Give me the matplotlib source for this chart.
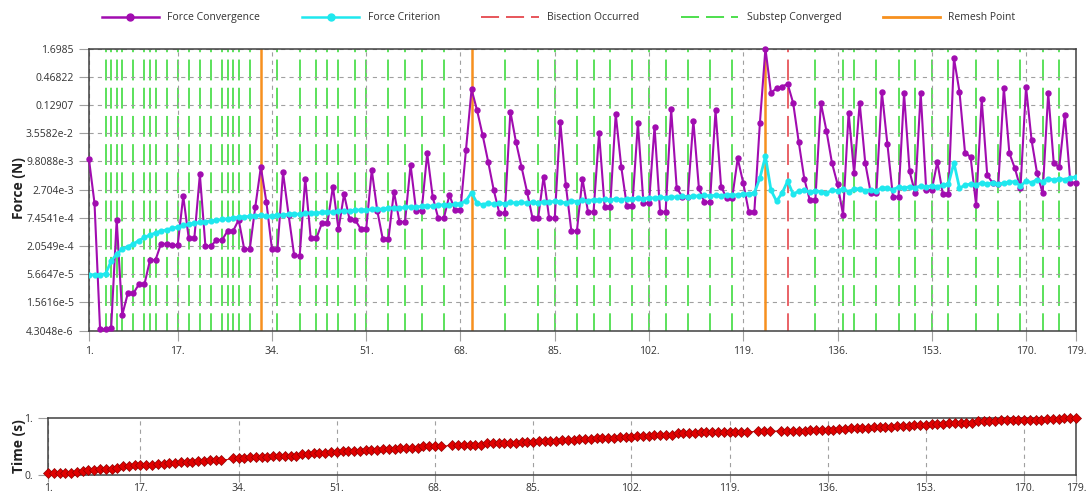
import numpy as np
import matplotlib
matplotlib.use('Agg')
import matplotlib.pyplot as plt
from matplotlib.lines import Line2D

plt.rcParams['font.family'] = ['Open Sans', 'DejaVu Sans']
plt.rcParams['lines.scale_dashes'] = False

iterations = np.arange(1, 180)

# log10 of Force Convergence (N)
force_conv_log10 = [
    -1.97, -2.84, -5.34, -5.34, -5.32, -3.17, -5.06, -4.63, -4.63, -4.45,
    -4.45, -3.97, -3.97, -3.64, -3.65, -3.67, -3.67, -2.70, -3.54, -3.54,
    -2.27, -3.69, -3.69, -3.57, -3.57, -3.39, -3.39, -3.17, -3.75, -3.75,
    -2.91, -2.12, -2.82, -3.75, -3.75, -2.23, -3.07, -3.87, -3.89, -2.35,
    -3.54, -3.54, -3.24, -3.24, -2.51, -3.36, -2.66, -3.16, -3.17, -3.35,
    -3.35, -2.18, -2.99, -3.56, -3.56, -2.61, -3.21, -3.21, -2.08, -2.99,
    -2.99, -1.85, -2.72, -3.14, -3.14, -2.68, -2.97, -2.97, -1.78, -0.58,
    -1.00, -1.49, -2.02, -2.58, -3.03, -3.03, -1.02, -1.62, -2.12, -2.61,
    -3.14, -3.14, -2.31, -3.14, -3.14, -1.22, -2.48, -3.39, -3.39, -2.35,
    -3.01, -3.01, -1.45, -2.91, -2.91, -1.07, -2.12, -2.89, -2.89, -1.25,
    -2.84, -2.84, -1.32, -3.01, -3.01, -0.98, -2.54, -2.71, -2.71, -1.20,
    -2.54, -2.82, -2.82, -1.00, -2.51, -2.74, -2.74, -1.95, -2.44, -3.01,
    -3.01, -1.25, 0.23, -0.65, -0.56, -0.53, -0.47, -0.85, -1.62, -2.35,
    -2.78, -2.78, -0.85, -1.40, -2.04, -2.46, -3.07, -1.04, -2.25, -0.85,
    -2.04, -2.64, -2.64, -0.63, -1.67, -2.71, -2.71, -0.66, -2.21, -2.64,
    -0.65, -2.58, -2.58, -2.02, -2.66, -2.66, 0.04, -0.63, -1.84, -1.92,
    -2.88, -0.78, -2.28, -2.44, -2.46, -0.55, -1.85, -2.15, -2.54, -0.53,
    -1.59, -2.25, -2.64, -0.65, -2.05, -2.12, -1.09, -2.43, -2.43,
]

# log10 of Force Criterion (N)
force_crit_log10 = [
    -4.26, -4.26, -4.26, -4.24, -3.99, -3.85, -3.75, -3.70, -3.65, -3.58,
    -3.52, -3.47, -3.43, -3.39, -3.37, -3.34, -3.31, -3.28, -3.26, -3.24,
    -3.22, -3.21, -3.19, -3.18, -3.16, -3.15, -3.13, -3.12, -3.11, -3.10,
    -3.09, -3.08, -3.10, -3.09, -3.08, -3.07, -3.06, -3.05, -3.06, -3.04,
    -3.03, -3.04, -3.02, -3.01, -3.02, -3.00, -2.99, -3.00, -2.98, -2.97,
    -2.98, -2.96, -2.95, -2.96, -2.94, -2.93, -2.94, -2.92, -2.91, -2.92,
    -2.90, -2.89, -2.90, -2.88, -2.87, -2.88, -2.86, -2.85, -2.79, -2.63,
    -2.84, -2.87, -2.84, -2.86, -2.83, -2.85, -2.82, -2.84, -2.82, -2.84,
    -2.81, -2.83, -2.81, -2.82, -2.80, -2.81, -2.84, -2.79, -2.81, -2.78,
    -2.79, -2.77, -2.78, -2.76, -2.78, -2.75, -2.77, -2.75, -2.76, -2.74,
    -2.75, -2.73, -2.74, -2.72, -2.73, -2.71, -2.72, -2.70, -2.72, -2.69,
    -2.70, -2.68, -2.70, -2.68, -2.69, -2.67, -2.68, -2.67, -2.66, -2.65,
    -2.64, -2.34, -1.91, -2.58, -2.80, -2.64, -2.40, -2.66, -2.60, -2.58,
    -2.62, -2.59, -2.61, -2.64, -2.58, -2.59, -2.56, -2.61, -2.56, -2.55,
    -2.59, -2.57, -2.60, -2.53, -2.54, -2.57, -2.52, -2.54, -2.51, -2.53,
    -2.50, -2.52, -2.49, -2.51, -2.48, -2.46, -2.04, -2.54, -2.48, -2.46,
    -2.47, -2.44, -2.46, -2.43, -2.46, -2.44, -2.42, -2.41, -2.50, -2.40,
    -2.43, -2.37, -2.41, -2.35, -2.38, -2.35, -2.37, -2.33, -2.32,
]

substep_converged = [4, 5, 6, 7, 9, 11, 12, 13, 15, 17, 19, 21, 23, 25, 26, 27,
                     28, 30, 35, 39, 42, 44, 46, 49, 51, 55, 58, 61, 65, 76,
                     82, 85, 89, 92, 95, 99, 102, 105, 109, 113, 117, 132, 137,
                     139, 143, 147, 150, 153, 156, 161, 165, 169, 173, 176]
remesh_points = [32, 70, 123]
bisection_points = [127]

# time (s) of each substep, by the last iteration of that substep
substep_end = [4, 5, 6, 7, 9, 11, 12, 13, 15, 17, 19, 21, 23, 25, 26, 27, 28,
               30, 32, 35, 39, 42, 44, 46, 49, 51, 55, 58, 61, 65, 70, 76, 82,
               85, 89, 92, 95, 99, 102, 105, 109, 113, 117, 123, 127, 132, 137,
               139, 143, 147, 150, 153, 156, 161, 165, 169, 173, 176, 179]
substep_time = [0.03, 0.04, 0.05, 0.07, 0.08, 0.10, 0.11, 0.13, 0.15, 0.17,
                0.18, 0.20, 0.21, 0.22, 0.23, 0.24, 0.25, 0.26, 0.27, 0.29,
                0.31, 0.33, 0.34, 0.36, 0.38, 0.40, 0.42, 0.44, 0.46, 0.48,
                0.51, 0.53, 0.56, 0.58, 0.60, 0.61, 0.63, 0.65, 0.67, 0.69,
                0.71, 0.73, 0.75, 0.76, 0.77, 0.78, 0.79, 0.80, 0.82, 0.84,
                0.86, 0.88, 0.90, 0.92, 0.94, 0.96, 0.97, 0.99, 1.00]
time_gaps = [32, 70, 123, 127]

x_ticks = [1, 17, 34, 51, 68, 85, 102, 119, 136, 153, 170, 179]
y_tick_labels = ['4.3048e-6', '1.5616e-5', '5.6647e-5', '2.0549e-4', '7.4541e-4',
                 '2.704e-3', '9.8088e-3', '3.5582e-2', '0.12907', '0.46822', '1.6985']

assert len(force_conv_log10) == 179 and len(force_crit_log10) == 179
assert len(substep_end) == len(substep_time)

force_conv = 10 ** np.array(force_conv_log10)
force_crit = 10 ** np.array(force_crit_log10)
time_s = np.array(substep_time)[np.searchsorted(substep_end, iterations)]
marker_idx = [k for k, it in enumerate(iterations) if it not in time_gaps]

PURPLE = '#a10cb0'
CYAN = '#1fe8ee'
GREEN = '#3fdc3f'
RED = '#e5484d'
ORANGE = '#f7901e'
GRID = '#a0a0a0'
TEXT = '#333333'

y_ticks = [float(s) for s in y_tick_labels]
ymin, ymax = y_ticks[0], y_ticks[-1]

fig = plt.figure(figsize=(10.89, 4.97), dpi=100)
ax = fig.add_axes([0.0817, 0.335, 0.9063, 0.5674])
ax_t = fig.add_axes([0.0441, 0.0443, 0.9440, 0.1147])

# main force chart
ax.set_yscale('log')
ax.set_xlim(1, 179)
ax.set_ylim(ymin, ymax)
ax.set_yticks(y_ticks)
ax.set_yticklabels(y_tick_labels)
ax.yaxis.set_minor_locator(matplotlib.ticker.NullLocator())
ax.set_xticks(x_ticks)
ax.set_xticklabels([f'{t}.' for t in x_ticks])
ax.grid(True, color=GRID, linestyle=(0, (3, 3)), linewidth=0.8, zorder=0)

dash = (12.7, (15.0, 5.3))
for x in substep_converged:
    ax.plot([x, x], [ymax, ymin], color=GREEN, lw=1.2, linestyle=dash, zorder=1)
for x in bisection_points:
    ax.plot([x, x], [ymax, ymin], color=RED, lw=1.2, linestyle=dash, zorder=1)
for x in remesh_points:
    ax.plot([x, x], [ymax, ymin], color=ORANGE, lw=1.8, zorder=2)

ax.plot(iterations, force_conv, color=PURPLE, lw=1.5, marker='o', ms=3.6,
        zorder=3, clip_on=False)
ax.plot(iterations, force_crit, color=CYAN, lw=2.0, marker='o', ms=3.4, zorder=4)

# time chart
ax_t.set_xlim(1, 179)
ax_t.set_ylim(0, 1)
ax_t.set_yticks([0, 1])
ax_t.set_yticklabels(['0.', '1.'])
ax_t.set_xticks(x_ticks)
ax_t.set_xticklabels([f'{t}.' for t in x_ticks])
ax_t.grid(True, axis='x', color=GRID, linestyle=(0, (3, 3)), linewidth=0.8, zorder=0)
ax_t.plot(iterations, time_s, color='#d01010', lw=0.8, marker='D', ms=4.8,
          mfc='#e00000', mec='#900000', mew=0.5, markevery=marker_idx,
          clip_on=False, zorder=3)

for a in (ax, ax_t):
    for sp in a.spines.values():
        sp.set_color('#404040')
        sp.set_linewidth(1.1)
    a.tick_params(axis='both', which='major', length=7, width=0.8, color=GRID,
                  labelsize=7.5, labelcolor=TEXT, pad=4)
ax_t.tick_params(axis='x', length=5, pad=1.0)

fig.text(0.017, 0.622, 'Force (N)', rotation=90, ha='center', va='center',
         fontsize=10, fontweight='bold', color='#222222')
fig.text(0.017, 0.103, 'Time (s)', rotation=90, ha='center', va='center',
         fontsize=10, fontweight='bold', color='#222222')

handles = [
    Line2D([], [], color=PURPLE, lw=1.8, marker='o', ms=5),
    Line2D([], [], color=CYAN, lw=1.8, marker='o', ms=5),
    Line2D([], [], color=RED, lw=1.3, linestyle=(0, (13, 5))),
    Line2D([], [], color=GREEN, lw=1.3, linestyle=(0, (13, 5))),
    Line2D([], [], color=ORANGE, lw=2.0),
]
labels = ['Force Convergence', 'Force Criterion', 'Bisection Occurred',
          'Substep Converged', 'Remesh Point']
fig.legend(handles, labels, loc='center', bbox_to_anchor=(0.513, 0.964),
           ncol=5, frameon=False, fontsize=7.5, handlelength=5.5,
           columnspacing=4.0, numpoints=1, labelcolor=TEXT)

fig.savefig('out.png', dpi=100)
